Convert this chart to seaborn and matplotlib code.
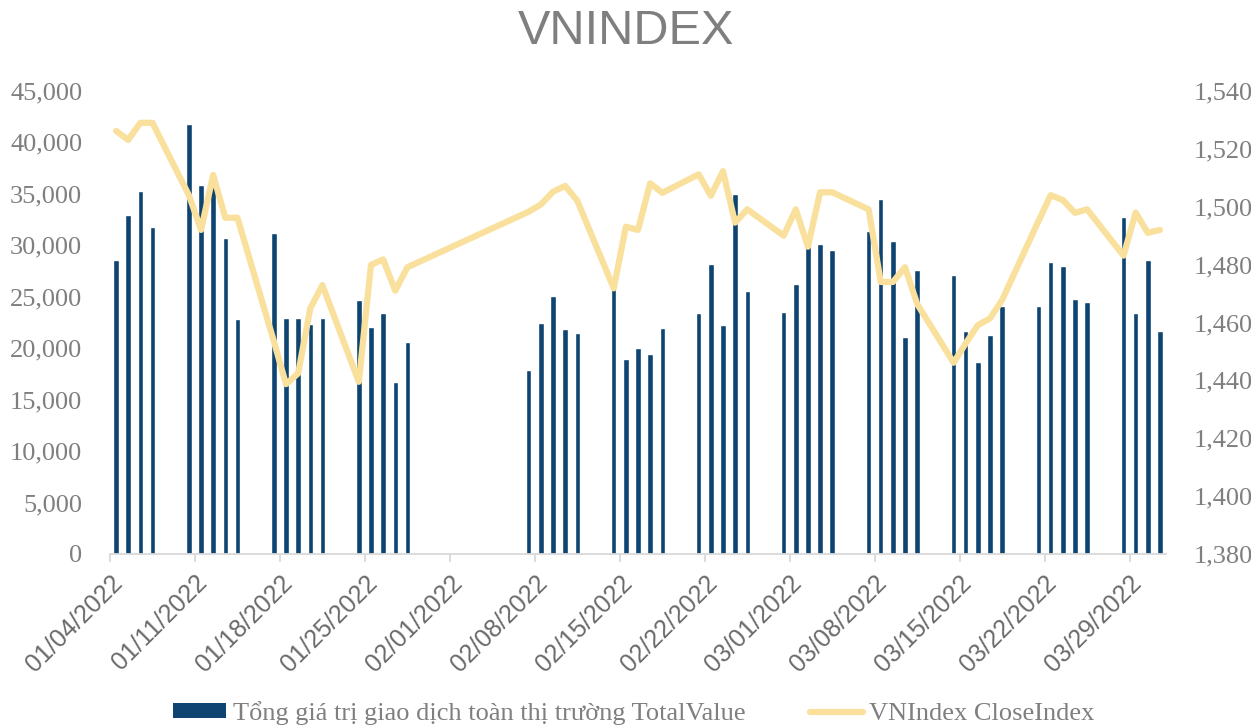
import numpy as np
import pandas as pd
import matplotlib
matplotlib.use("Agg")
import matplotlib.pyplot as plt
import matplotlib.dates as mdates
from matplotlib.patches import Patch
from matplotlib.lines import Line2D
import seaborn as sns

# Data
trade_days = [
    "2022-01-04", "2022-01-05", "2022-01-06", "2022-01-07",
    "2022-01-10", "2022-01-11", "2022-01-12", "2022-01-13", "2022-01-14",
    "2022-01-17", "2022-01-18", "2022-01-19", "2022-01-20", "2022-01-21",
    "2022-01-24", "2022-01-25", "2022-01-26", "2022-01-27", "2022-01-28",
    "2022-02-07", "2022-02-08", "2022-02-09", "2022-02-10", "2022-02-11",
    "2022-02-14", "2022-02-15", "2022-02-16", "2022-02-17", "2022-02-18",
    "2022-02-21", "2022-02-22", "2022-02-23", "2022-02-24", "2022-02-25",
    "2022-02-28", "2022-03-01", "2022-03-02", "2022-03-03", "2022-03-04",
    "2022-03-07", "2022-03-08", "2022-03-09", "2022-03-10", "2022-03-11",
    "2022-03-14", "2022-03-15", "2022-03-16", "2022-03-17", "2022-03-18",
    "2022-03-21", "2022-03-22", "2022-03-23", "2022-03-24", "2022-03-25",
    "2022-03-28", "2022-03-29", "2022-03-30", "2022-03-31",
]
total_value = [
    28600, 32900, 35300, 31800,
    41800, 35900, 36000, 30700, 22800,
    31200, 22900, 22900, 22400, 22900,
    24700, 22100, 23400, 16700, 20600,
    17900, 22500, 25100, 21900, 21500,
    25900, 19000, 20000, 19400, 22000,
    23400, 28200, 22300, 35000, 25600,
    23500, 26200, 29900, 30100, 29500,
    31400, 34500, 30400, 21100, 27600,
    27100, 21700, 18700, 21300, 24100,
    24100, 28400, 28000, 24800, 24500,
    32800, 23400, 28600, 21700,
]
close_index = [
    1526.2, 1523.1, 1529.0, 1529.0,
    1504.0, 1492.0, 1511.0, 1496.2, 1496.2,
    1453.5, 1438.7, 1442.4, 1464.9, 1472.9,
    1439.5, 1479.9, 1481.8, 1471.0, 1479.1,
    1498.3, 1500.8, 1505.2, 1507.2, 1502.1,
    1471.8, 1493.1, 1492.0, 1508.1, 1504.8,
    1511.2, 1503.8, 1512.3, 1494.5, 1499.1,
    1490.0, 1499.1, 1486.2, 1505.0, 1505.0,
    1499.1, 1474.0, 1474.0, 1479.1, 1466.4,
    1446.1, 1452.8, 1459.1, 1461.4, 1467.8,
    1495.1, 1504.0, 1502.3, 1497.9, 1499.1,
    1483.1, 1498.0, 1491.0, 1492.0,
]
week_ticks = ["2022-01-04", "2022-01-11", "2022-01-18", "2022-01-25", "2022-02-01",
              "2022-02-08", "2022-02-15", "2022-02-22", "2022-03-01", "2022-03-08",
              "2022-03-15", "2022-03-22", "2022-03-29"]

bar_color = "#0d4471"
line_color = "#f9e09c"
grey = "#7f7f7f"

sns.set_style("white")
plt.rcParams["font.family"] = ["Liberation Serif", "DejaVu Serif"]

# bars/points sit in the middle of each day slot
day_num = mdates.date2num(pd.to_datetime(trade_days)) + 0.5
df = pd.DataFrame({"day": day_num, "value": total_value, "close": close_index})

fig = plt.figure(figsize=(12.51, 7.26), dpi=100)
ax = fig.add_axes([110 / 1251, 172 / 726, 1056 / 1251, 463 / 726])

sns.barplot(data=df, x="day", y="value", native_scale=True, width=0.45,
            color=bar_color, saturation=1, ax=ax)
ax.set_ylim(0, 45000)
ax.set_yticks(np.arange(0, 45001, 5000))
ax.set_yticklabels([f"{v:,}" for v in range(0, 45001, 5000)])

ax2 = ax.twinx()
sns.lineplot(data=df, x="day", y="close", color=line_color, lw=4.5,
             solid_joinstyle="round", solid_capstyle="round", ax=ax2)
ax2.set_ylim(1380, 1540)
ax2.set_yticks(np.arange(1380, 1541, 20))
ax2.set_yticklabels([f"{v:,}" for v in range(1380, 1541, 20)])

x0 = mdates.date2num(pd.Timestamp("2022-01-04"))
x1 = mdates.date2num(pd.Timestamp("2022-04-01"))
tick_pos = mdates.date2num(pd.to_datetime(week_ticks))
for a in (ax, ax2):
    a.set_xlim(x0, x1)
    a.set_xlabel("")
    a.set_ylabel("")
    for s in ("left", "right", "top"):
        a.spines[s].set_visible(False)
ax2.spines["bottom"].set_visible(False)
ax.spines["bottom"].set_color("#d9d9d9")
ax.spines["bottom"].set_linewidth(1.3)

ax.set_xticks(tick_pos)
ax.set_xticklabels(pd.to_datetime(week_ticks).strftime("%m/%d/%Y"),
                   rotation=45, ha="right", rotation_mode="anchor",
                   family="Liberation Sans", fontsize=18, color="#6a6a6a")
ax.tick_params(axis="x", length=6, width=1.3, color="#d9d9d9", pad=6, bottom=True)
ax.tick_params(axis="y", length=0, pad=20, labelsize=19, labelcolor=grey)
ax2.tick_params(axis="y", length=0, pad=20, labelsize=19, labelcolor=grey)
ax2.tick_params(axis="x", bottom=False, labelbottom=False)

fig.text(0.5, 1 - 32 / 726, "VNINDEX", ha="center", va="center",
         family="Liberation Sans", fontsize=35, color=grey)

handles = [Patch(facecolor=bar_color, edgecolor="none"),
           Line2D([0], [0], color=line_color, lw=4.5, solid_capstyle="round")]
fig.legend(handles, ["Tổng giá trị giao dịch toàn thị trường TotalValue", "VNIndex CloseIndex"],
           loc="center", bbox_to_anchor=(634 / 1251, 1 - 713 / 726), ncol=2, frameon=False,
           fontsize=19, labelcolor=grey, handlelength=2.0, handleheight=0.5,
           handletextpad=0.25, columnspacing=2.45)

fig.savefig("out.png", dpi=100)
